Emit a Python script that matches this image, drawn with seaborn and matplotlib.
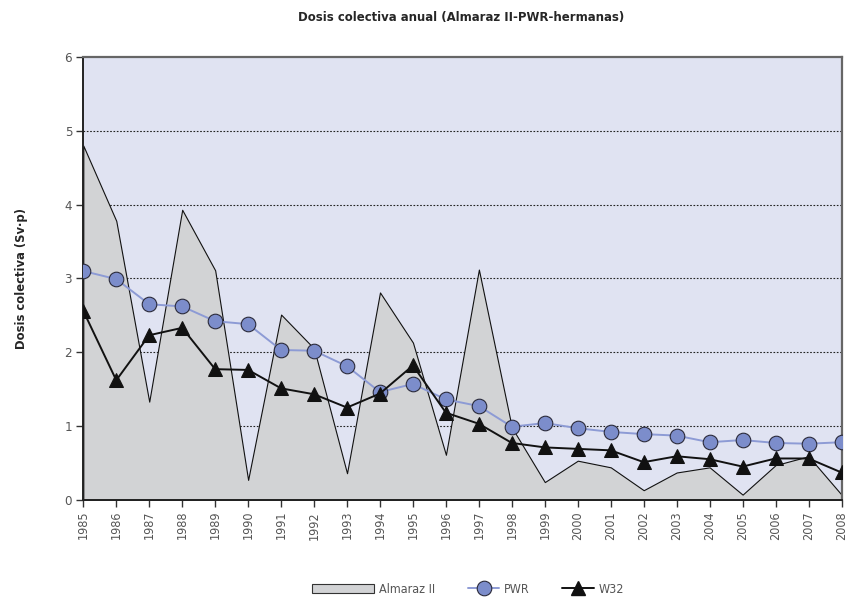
import matplotlib
matplotlib.use("Agg")
import matplotlib.pyplot as plt
from matplotlib import font_manager
import seaborn as sns
import pandas as pd
from matplotlib.patches import Patch, Rectangle
from matplotlib.lines import Line2D
from matplotlib.legend_handler import HandlerPatch

years = list(range(1985, 2009))
almaraz = [4.80, 3.78, 1.33, 3.93, 3.11, 0.27, 2.51, 2.05, 0.36, 2.81, 2.13, 0.61,
           3.12, 0.98, 0.24, 0.53, 0.44, 0.13, 0.37, 0.44, 0.07, 0.47, 0.59, 0.07]
pwr = [3.10, 2.99, 2.65, 2.62, 2.42, 2.38, 2.03, 2.02, 1.81, 1.46, 1.57, 1.36,
       1.27, 0.99, 1.04, 0.97, 0.92, 0.89, 0.87, 0.78, 0.81, 0.77, 0.76, 0.78]
w32 = [2.56, 1.62, 2.23, 2.33, 1.77, 1.76, 1.51, 1.43, 1.25, 1.44, 1.82, 1.18,
       1.03, 0.77, 0.71, 0.69, 0.67, 0.51, 0.59, 0.55, 0.45, 0.56, 0.56, 0.37]
y_ticks = [0, 1, 2, 3, 4, 5, 6]

title = "Dosis colectiva anual (Almaraz II-PWR-hermanas)"
ylabel = "Dosis colectiva (Sv·p)"
labels = ["Almaraz II", "PWR", "W32"]

df = pd.DataFrame({"year": years, "almaraz": almaraz, "pwr": pwr, "w32": w32})

sns.set_style("white")
cond = any(f.name == "DejaVu Sans" and f.stretch == "condensed"
           for f in font_manager.fontManager.ttflist)
plt.rcParams["font.family"] = ["DejaVu Sans"]
if cond:
    plt.rcParams["font.stretch"] = "condensed"
k = 1.0 if cond else 0.88

fig = plt.figure(figsize=(8.5, 6), dpi=100)
ax = fig.add_axes([0.098, 0.167, 0.892, 0.738])
ax.set_facecolor("#E0E3F2")

bg_col = "#D2D3D5"
circle_fill = "#7C8DCB"
pwr_line = "#8D9BD5"

for v in y_ticks[1:-1]:
    ax.axhline(v, color="#222222", lw=0.8, ls=(0, (1.5, 1.5)), zorder=1)

ax.fill_between(df["year"], df["almaraz"], 0, facecolor=bg_col, edgecolor="#111111",
                lw=0.8, zorder=2)

sns.lineplot(data=df, x="year", y="pwr", ax=ax, color=pwr_line, lw=1.4,
             marker="o", markersize=10.5, markerfacecolor=circle_fill,
             markeredgecolor="#2a2a3a", markeredgewidth=0.8, zorder=3)
sns.lineplot(data=df, x="year", y="w32", ax=ax, color="#111111", lw=1.4,
             marker="^", markersize=10.5, markerfacecolor="#111111",
             markeredgecolor="#111111", zorder=4)

ax.set_xlim(years[0], years[-1])
ax.set_ylim(0, 6)
ax.set_xticks(years)
ax.set_xticklabels([str(y) for y in years], rotation=90, fontsize=9 * k, color="#555555")
ax.set_yticks(y_ticks)
ax.set_yticklabels([str(v) for v in y_ticks], fontsize=9.5 * k, color="#555555")
ax.tick_params(axis="both", direction="out", length=5, width=1, color="#333333",
               bottom=True, left=True, pad=3)
ax.set_xlabel("")
ax.set_ylabel(ylabel, fontsize=9.3 * k, fontweight="bold")
ax.yaxis.set_label_coords(-0.073, 0.5)

for side in ["left", "bottom"]:
    ax.spines[side].set_color("#222222")
    ax.spines[side].set_linewidth(1.4)
for side in ["top", "right"]:
    ax.spines[side].set_color("#666666")
    ax.spines[side].set_linewidth(1.6)

fig.text(0.542, 0.97, title, ha="center", va="center",
         fontsize=9.4 * k, fontweight="bold")


class WideRect(HandlerPatch):
    def create_artists(self, legend, orig_handle, xdescent, ydescent, width, height,
                       fontsize, trans):
        r = Rectangle((-xdescent - width, -ydescent), 2 * width, height * 0.95,
                      facecolor=orig_handle.get_facecolor(),
                      edgecolor=orig_handle.get_edgecolor(), lw=0.8, transform=trans)
        return [r]


handles = [
    Patch(facecolor=bg_col, edgecolor="#333333", lw=0.8),
    Line2D([], [], color=pwr_line, lw=1.4, marker="o", markersize=10.5,
           markerfacecolor=circle_fill, markeredgecolor="#2a2a3a", markeredgewidth=0.8),
    Line2D([], [], color="#111111", lw=1.4, marker="^", markersize=10.5,
           markerfacecolor="#111111"),
]
fig.legend(handles, labels, loc="center", bbox_to_anchor=(0.569, 0.018), ncol=3,
           frameon=False, fontsize=9 * k, handlelength=2.5,
           columnspacing=2.6, handletextpad=0.4, labelcolor="#555555",
           handler_map={Patch: WideRect()})

fig.savefig("out.png", dpi=100)
